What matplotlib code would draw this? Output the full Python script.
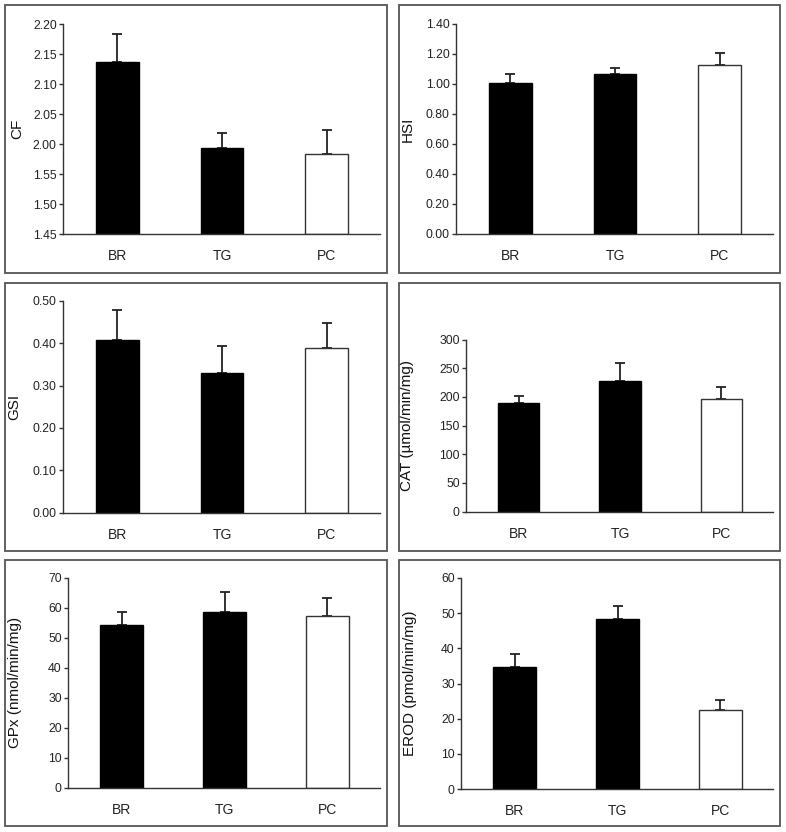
import matplotlib
matplotlib.use("Agg")
import matplotlib.pyplot as plt
from matplotlib.patches import Rectangle

plt.rcParams['font.family'] = ['Liberation Sans', 'DejaVu Sans']

groups = ["BR", "TG", "PC"]

cf_mean = [2.137, 1.994, 1.984]
cf_err = [0.047, 0.025, 0.039]
cf_ticks = [1.85, 1.90, 1.95, 2.00, 2.05, 2.10, 2.15, 2.20]
cf_ticklabels = ["1.45", "1.50", "1.55", "2.00", "2.05", "2.10", "2.15", "2.20"]

hsi_mean = [1.005, 1.066, 1.130]
hsi_err = [0.064, 0.042, 0.078]
hsi_ticks = [0.0, 0.2, 0.4, 0.6, 0.8, 1.0, 1.2, 1.4]

gsi_mean = [0.408, 0.329, 0.388]
gsi_err = [0.070, 0.064, 0.060]
gsi_ticks = [0.0, 0.1, 0.2, 0.3, 0.4, 0.5]

cat_mean = [189.0, 227.5, 196.5]
cat_err = [12.5, 32.0, 21.0]
cat_ticks = [0, 50, 100, 150, 200, 250, 300]

gpx_mean = [54.2, 58.6, 57.2]
gpx_err = [4.4, 6.6, 6.2]
gpx_ticks = [0, 10, 20, 30, 40, 50, 60, 70]

erod_mean = [34.8, 48.2, 22.6]
erod_err = [3.7, 3.8, 2.6]
erod_ticks = [0, 10, 20, 30, 40, 50, 60]

W, H = 786, 832
fig = plt.figure(figsize=(W / 100, H / 100), dpi=100)

# frames (pixel boxes)
frames = [(5, 5, 387, 273), (399, 5, 780, 273),
          (5, 283, 387, 551), (399, 283, 780, 551),
          (5, 560, 387, 826), (399, 560, 780, 826)]
for x0, y0, x1, y1 in frames:
    fig.add_artist(Rectangle((x0 / W, 1 - y1 / H), (x1 - x0) / W, (y1 - y0) / H,
                             transform=fig.transFigure, fill=False,
                             edgecolor='#555555', linewidth=1.3))

# axes boxes in pixels: left, top, right, bottom
panels = [
    dict(box=(63, 24, 380, 234), mean=cf_mean, err=cf_err, ticks=cf_ticks,
         labels=cf_ticklabels, ylabel="CF", lab_x=17),
    dict(box=(456, 24, 773, 234), mean=hsi_mean, err=hsi_err, ticks=hsi_ticks,
         labels=["%.2f" % t for t in hsi_ticks], ylabel="HSI", lab_x=408),
    dict(box=(63, 301, 380, 512.5), mean=gsi_mean, err=gsi_err, ticks=gsi_ticks,
         labels=["%.2f" % t for t in gsi_ticks], ylabel="GSI", lab_x=14),
    dict(box=(466, 339.5, 773, 511.5), mean=cat_mean, err=cat_err, ticks=cat_ticks,
         labels=[str(t) for t in cat_ticks], ylabel="CAT (\u00b5mol/min/mg)", lab_x=407),
    dict(box=(68, 578, 380, 787.5), mean=gpx_mean, err=gpx_err, ticks=gpx_ticks,
         labels=[str(t) for t in gpx_ticks], ylabel="GPx (nmol/min/mg)", lab_x=15),
    dict(box=(461, 578, 773, 789), mean=erod_mean, err=erod_err, ticks=erod_ticks,
         labels=[str(t) for t in erod_ticks], ylabel="EROD (pmol/min/mg)", lab_x=410),
]

xpos = list(range(len(groups)))
for p in panels:
    l, t, r, b = p['box']
    ax = fig.add_axes([l / W, 1 - b / H, (r - l) / W, (b - t) / H])
    colors = ['black', 'black', 'white']
    edges = ['black', 'black', '#333333']
    base = p['ticks'][0]
    heights = [m - base for m in p['mean']]
    ax.bar(xpos, heights, bottom=base, width=0.41, color=colors,
           edgecolor=edges, linewidth=1.0, zorder=2)
    ax.errorbar(xpos, p['mean'], yerr=[[0] * 3, p['err']], fmt='none',
                ecolor='#222222', elinewidth=1.3, capsize=3.5, capthick=1.3, zorder=1)
    ax.set_xlim(-0.52, 2.51)
    ax.set_ylim(p['ticks'][0], p['ticks'][-1])
    ax.set_yticks(p['ticks'])
    ax.set_yticklabels(p['labels'], fontsize=8.8, color='#222222')
    ax.set_xticks(xpos)
    ax.set_xticklabels(groups, fontsize=10, color='#222222')
    ax.tick_params(axis='x', length=0, pad=11)
    ax.tick_params(axis='y', length=3, width=1, color='#333333', pad=1.5)
    for s in ['top', 'right']:
        ax.spines[s].set_visible(False)
    for s in ['left', 'bottom']:
        ax.spines[s].set_color('#333333')
        ax.spines[s].set_linewidth(1.0)
    ax.set_ylabel(p['ylabel'], fontsize=11, color='#111111', va='center')
    ax.yaxis.set_label_coords((p['lab_x'] - l) / (r - l), 0.5)

fig.savefig("out.png", dpi=100)
